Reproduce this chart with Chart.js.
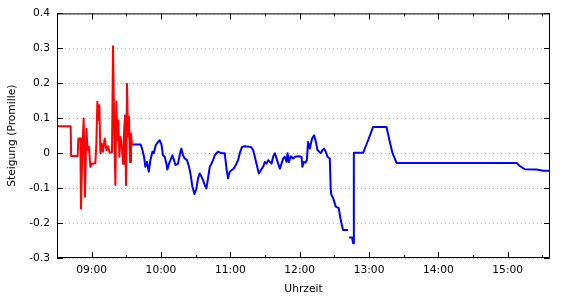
<!DOCTYPE html>
<html lang="de">

<head>
    <meta charset="UTF-8">
    <title>Steigung (Promille)</title>
    <style>
        body {
            background-color: white;
            margin: 0;
            padding: 0;
        }

        #chart {
            display: block;
        }
    </style>
</head>

<body>
    <canvas id="chart" width="570" height="300"></canvas>

    <script src="https://cdn.jsdelivr.net/npm/chart.js"></script>
    <script>
        // Uhrzeit in Stunden (dezimal), Steigung in Promille
        const redTimes = [8.50, 8.697, 8.704, 8.798, 8.808, 8.837, 8.846, 8.866, 8.885, 8.903, 8.924, 8.942, 8.961, 8.981,
            9.004, 9.053, 9.068, 9.082, 9.097, 9.111, 9.126, 9.144, 9.163, 9.188, 9.212, 9.235, 9.260, 9.293, 9.308,
            9.328, 9.342, 9.356, 9.371, 9.385, 9.400, 9.414, 9.433, 9.452, 9.466, 9.481, 9.495, 9.510, 9.524, 9.538,
            9.553, 9.567, 9.582];
        const redValues = [0.077, 0.077, -0.008, -0.008, 0.042, 0.042, -0.158, 0.018, 0.099, -0.125, 0.07, 0.009, 0.018, -0.039,
            -0.03, -0.028, 0.028, 0.147, 0.094, 0.137, 0.0, 0.028, 0.004, 0.042, 0.009, 0.02, 0.001, 0.003, 0.306,
            0.037, -0.091, 0.147, 0.037, 0.094, -0.01, 0.047, 0.028, -0.03, 0.056, 0.108, -0.091, 0.199, 0.047, 0.104,
            -0.025, 0.056, 0.023];

        const blueTimes = [9.582, 9.707, 9.732, 9.755, 9.775, 9.798, 9.823, 9.847, 9.876, 9.895, 9.924, 9.957, 9.981,
            10.006, 10.029, 10.053, 10.078, 10.092, 10.115, 10.136, 10.164, 10.188, 10.208, 10.245, 10.280, 10.294,
            10.317, 10.342, 10.375, 10.404, 10.424, 10.453, 10.482, 10.511, 10.534, 10.558, 10.583, 10.606, 10.631,
            10.655, 10.678, 10.703, 10.727, 10.751, 10.775, 10.799, 10.823, 10.871, 10.919, 10.944, 10.967, 10.991,
            11.016, 11.049, 11.088, 11.111, 11.136, 11.169, 11.208, 11.295, 11.328, 11.353, 11.377, 11.411, 11.440,
            11.473, 11.497, 11.522, 11.545, 11.570, 11.594, 11.618, 11.642, 11.666, 11.689, 11.714, 11.738, 11.762,
            11.786, 11.811, 11.825, 11.844, 11.873, 11.906, 11.931, 11.978, 12.026, 12.040, 12.060, 12.084, 12.103,
            12.121, 12.147, 12.160, 12.179, 12.208, 12.228, 12.257, 12.281, 12.305, 12.329, 12.352, 12.376, 12.401,
            12.434, 12.448, 12.458, 12.481, 12.520, 12.563, 12.588, 12.602, 12.625, 12.697, 12.705, 12.713, 12.756,
            12.771, 12.781, 12.915, 12.987, 13.059, 13.252, 13.300, 13.339, 13.397, 15.128, 15.176, 15.248, 15.417,
            15.512, 15.609];
        const blueValues = [0.025, 0.025, 0.009, -0.01, -0.039, -0.025, -0.053, -0.02, 0.004, 0.0, 0.023, 0.032, 0.037,
            0.025, -0.006, -0.01, -0.03, -0.047, -0.03, -0.02, -0.006, -0.02, -0.034, -0.03, 0.004, 0.013,
            -0.006, -0.015, -0.02, -0.039, -0.058, -0.096, -0.117, -0.101, -0.072, -0.058, -0.067, -0.077, -0.091,
            -0.101, -0.072, -0.039, -0.03, -0.02, -0.006, 0.0, 0.004, 0.0, 0.0, -0.044, -0.072, -0.053,
            -0.049, -0.044, -0.03, -0.02, 0.0, 0.018, 0.02, 0.018, 0.009, -0.01, -0.03, -0.058, -0.049,
            -0.039, -0.025, -0.03, -0.02, -0.025, -0.03, -0.01, 0.0, -0.015, -0.03, -0.044, -0.03, -0.015,
            -0.01, -0.025, 0.0, -0.025, -0.009, -0.015, -0.01, -0.009, -0.01, -0.039, -0.025, -0.027, -0.02,
            0.032, 0.013, 0.026, 0.042, 0.051, 0.037, 0.009, 0.004, 0.0, 0.009, 0.013, 0.004, -0.01,
            -0.015, -0.106, -0.12, -0.128, -0.153, -0.157, -0.187, -0.2, -0.22, -0.22, null, -0.241, -0.241,
            -0.258, 0.001, 0.001, 0.037, 0.075, 0.075, 0.032, 0.0, -0.028, -0.028, -0.037, -0.046, -0.047,
            -0.05, -0.05];

        // Achsenbeschriftung
        const hourTicks = [9, 10, 11, 12, 13, 14, 15];
        const halfHourTicks = [8.5, 9.5, 10.5, 11.5, 12.5, 13.5, 14.5, 15.5];
        const yMin = -0.3;
        const yMax = 0.4;
        const xMin = 8.5;
        const xMax = 15.61;

        function toPoints(times, values) {
            return times.map((t, i) => ({ x: t, y: values[i] }));
        }

        function formatHour(v) {
            const h = Math.floor(v);
            const m = Math.round((v - h) * 60);
            return String(h).padStart(2, '0') + ':' + String(m).padStart(2, '0');
        }

        // Rahmen mit nach innen zeigenden Ticks (wie gnuplot)
        const framePlugin = {
            id: 'frame',
            afterDraw(chart) {
                const { ctx, chartArea: a, scales } = chart;
                ctx.save();
                ctx.strokeStyle = '#000';
                ctx.lineWidth = 1;
                ctx.beginPath();
                ctx.rect(a.left + 0.5, a.top + 0.5, a.right - a.left - 1, a.bottom - a.top - 1);

                scales.y.ticks.forEach(t => {
                    const y = Math.round(scales.y.getPixelForValue(t.value)) + 0.5;
                    ctx.moveTo(a.left, y); ctx.lineTo(a.left + 6, y);
                    ctx.moveTo(a.right, y); ctx.lineTo(a.right - 6, y);
                });
                hourTicks.forEach(v => {
                    const x = Math.round(scales.x.getPixelForValue(v)) + 0.5;
                    ctx.moveTo(x, a.bottom); ctx.lineTo(x, a.bottom - 6);
                    ctx.moveTo(x, a.top); ctx.lineTo(x, a.top + 6);
                });
                halfHourTicks.forEach(v => {
                    const x = Math.round(scales.x.getPixelForValue(v)) + 0.5;
                    ctx.moveTo(x, a.bottom); ctx.lineTo(x, a.bottom - 3);
                    ctx.moveTo(x, a.top); ctx.lineTo(x, a.top + 3);
                });
                ctx.stroke();
                ctx.restore();
            }
        };

        const font = { family: 'DejaVu Sans', size: 10.7 };

        new Chart(document.getElementById('chart').getContext('2d'), {
            type: 'line',
            data: {
                datasets: [{
                    data: toPoints(redTimes, redValues),
                    borderColor: '#ff0000',
                    borderWidth: 2,
                    borderJoinStyle: 'round',
                    pointRadius: 0,
                    tension: 0
                }, {
                    data: toPoints(blueTimes, blueValues),
                    borderColor: '#0000ff',
                    borderWidth: 2,
                    borderJoinStyle: 'round',
                    pointRadius: 0,
                    tension: 0,
                    spanGaps: false
                }]
            },
            options: {
                responsive: false,
                animation: false,
                devicePixelRatio: 1,
                layout: { padding: { top: 13, right: 20, left: 0, bottom: 0 } },
                plugins: {
                    legend: { display: false },
                    tooltip: { enabled: false }
                },
                scales: {
                    x: {
                        type: 'linear',
                        min: xMin,
                        max: xMax,
                        afterBuildTicks: s => { s.ticks = hourTicks.map(v => ({ value: v })); },
                        afterFit: s => { s.height = 42; },
                        grid: { display: false, drawTicks: false },
                        border: { display: false },
                        ticks: {
                            color: '#000',
                            font: font,
                            padding: 6,
                            maxRotation: 0,
                            autoSkip: false,
                            callback: v => formatHour(v)
                        },
                        title: {
                            display: true,
                            text: 'Uhrzeit',
                            color: '#000',
                            font: font,
                            padding: { top: 4, bottom: 4 }
                        }
                    },
                    y: {
                        min: yMin,
                        max: yMax,
                        afterFit: s => { s.width = 57; },
                        grid: {
                            color: '#b4b4b4',
                            lineWidth: 1,
                            drawTicks: false
                        },
                        border: { display: false, dash: [1, 3] },
                        ticks: {
                            stepSize: 0.1,
                            color: '#000',
                            font: font,
                            padding: 7,
                            callback: v => String(Math.round(v * 10) / 10)
                        },
                        title: {
                            display: true,
                            text: 'Steigung (Promille)',
                            color: '#000',
                            font: font,
                            padding: { top: 6, bottom: 6 }
                        }
                    }
                }
            },
            plugins: [framePlugin]
        });
    </script>
</body>

</html>
